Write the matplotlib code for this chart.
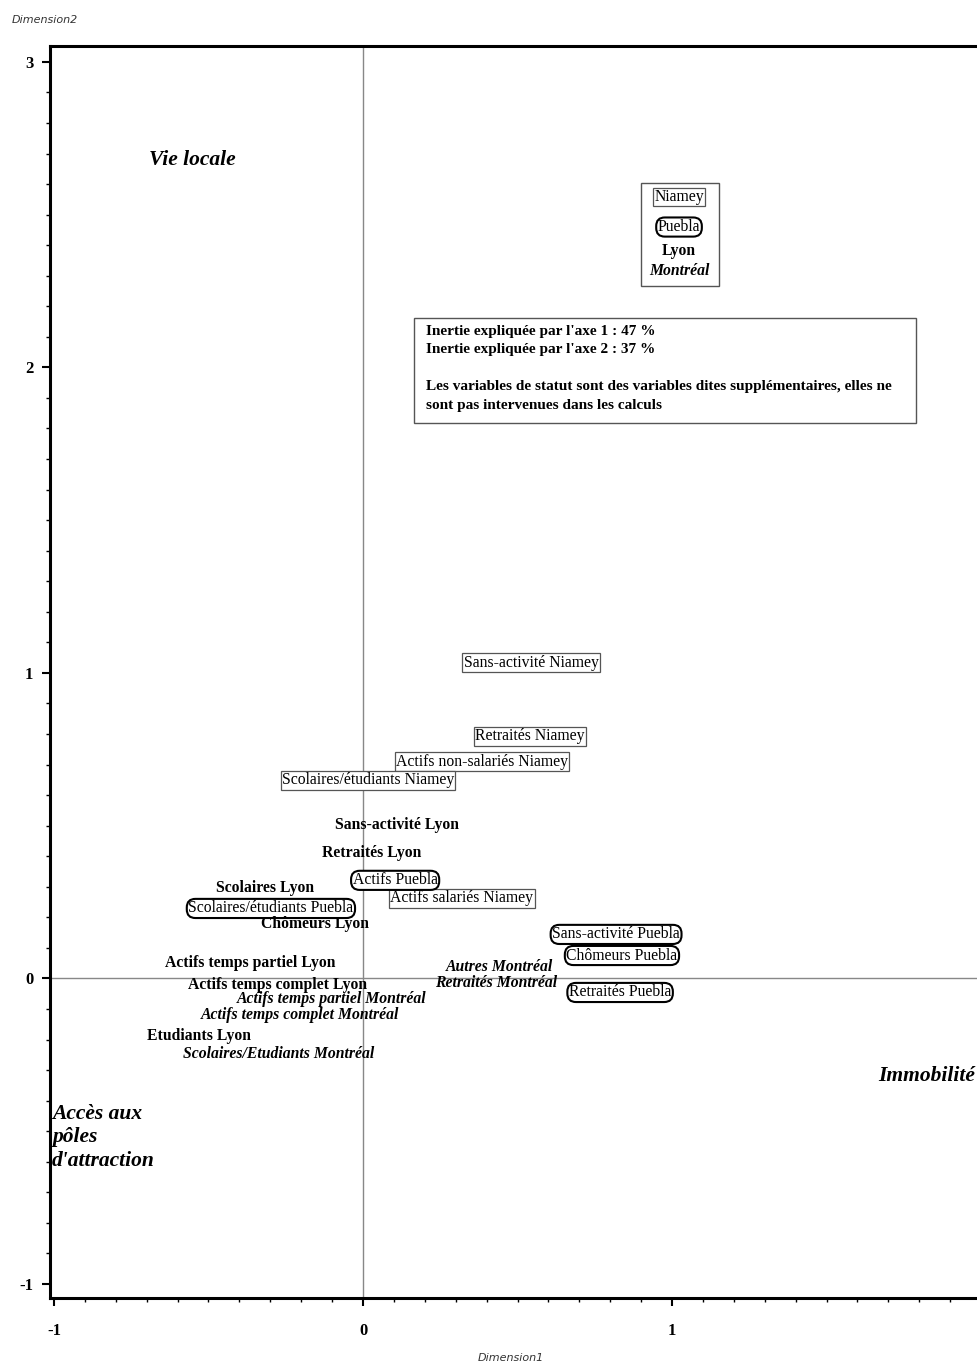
import matplotlib.pyplot as plt
from matplotlib.patches import Rectangle
from matplotlib.ticker import MultipleLocator

# coordinates of the categories on the first factorial plane
niamey_labels = ['Sans-activité Niamey', 'Retraités Niamey', 'Actifs non-salariés Niamey',
                 'Scolaires/étudiants Niamey', 'Actifs salariés Niamey']
niamey_x = [0.544, 0.540, 0.385, 0.016, 0.320]
niamey_y = [1.034, 0.792, 0.710, 0.648, 0.262]

puebla_labels = ['Actifs Puebla', 'Scolaires/étudiants Puebla', 'Sans-activité Puebla',
                 'Chômeurs Puebla', 'Retraités Puebla']
puebla_x = [0.104, -0.298, 0.819, 0.838, 0.832]
puebla_y = [0.321, 0.229, 0.144, 0.075, -0.046]

lyon_labels = ['Sans-activité Lyon', 'Retraités Lyon', 'Scolaires Lyon', 'Chômeurs Lyon',
               'Actifs temps partiel Lyon', 'Actifs temps complet Lyon', 'Etudiants Lyon']
lyon_x = [0.110, 0.029, -0.317, -0.155, -0.366, -0.278, -0.531]
lyon_y = [0.501, 0.412, 0.295, 0.177, 0.052, -0.020, -0.190]

montreal_labels = ['Autres Montréal', 'Retraités Montréal', 'Actifs temps partiel Montréal',
                   'Actifs temps complet Montréal', 'Scolaires/Etudiants Montréal']
montreal_x = [0.443, 0.430, -0.100, -0.204, -0.272]
montreal_y = [0.039, -0.016, -0.069, -0.121, -0.249]

info = ("Inertie expliquée par l'axe 1 : 47 %\n"
        "Inertie expliquée par l'axe 2 : 37 %\n"
        "\n"
        "Les variables de statut sont des variables dites supplémentaires, elles ne\n"
        "sont pas intervenues dans les calculs")

plt.rcParams['axes.unicode_minus'] = False
serif = 'Liberation Serif'
fs = 11.3

sq_box = dict(boxstyle='square,pad=0.08', fc='white', ec='#555555', lw=0.9)
rd_box = dict(boxstyle='round,pad=0.1,rounding_size=0.55', fc='white', ec='black', lw=1.5)

fig = plt.figure(figsize=(9.78, 13.65), dpi=100)
ax = fig.add_axes([0.0511, 0.0491, 0.9678, 0.9172])
ax.set_xlim(-1.013, 2.05)
ax.set_ylim(-1.046, 3.052)

ax.axvline(0, color='#888888', lw=1, zorder=0)
ax.axhline(0, color='#888888', lw=1, zorder=0)

for lab, x, y in zip(niamey_labels, niamey_x, niamey_y):
    ax.text(x, y, lab, ha='center', va='center', family=serif, fontsize=fs, bbox=sq_box)
for lab, x, y in zip(puebla_labels, puebla_x, puebla_y):
    ax.text(x, y, lab, ha='center', va='center', family=serif, fontsize=fs, bbox=rd_box)
for lab, x, y in zip(lyon_labels, lyon_x, lyon_y):
    ax.text(x, y, lab, ha='center', va='center', family=serif, fontsize=fs, weight='bold')
for lab, x, y in zip(montreal_labels, montreal_x, montreal_y):
    ax.text(x, y, lab, ha='center', va='center', family=serif, fontsize=fs,
            weight='bold', style='italic')

# axis interpretations
ax.text(-0.553, 2.678, 'Vie locale', ha='center', va='center', family=serif,
        fontsize=15.5, weight='bold', style='italic')
ax.text(1.825, -0.318, 'Immobilité', ha='center', va='center', family=serif,
        fontsize=15.5, weight='bold', style='italic')
ax.text(-1.006, -0.520, "Accès aux\npôles\nd'attraction", ha='left', va='center',
        family=serif, fontsize=15.5, weight='bold', style='italic', linespacing=1.25)

# legend box
ax.add_patch(Rectangle((0.6244, 0.8083), 0.0824, 0.0823, transform=ax.transAxes,
                       fc='white', ec='#555555', lw=1))
ax.text(0.6646, 0.8794, 'Niamey', transform=ax.transAxes, ha='center', va='center',
        family=serif, fontsize=fs, bbox=sq_box)
ax.text(0.6646, 0.8554, 'Puebla', transform=ax.transAxes, ha='center', va='center',
        family=serif, fontsize=fs, bbox=rd_box)
ax.text(0.6646, 0.8363, 'Lyon', transform=ax.transAxes, ha='center', va='center',
        family=serif, fontsize=fs, weight='bold')
ax.text(0.6646, 0.8203, 'Montréal', transform=ax.transAxes, ha='center', va='center',
        family=serif, fontsize=fs, weight='bold', style='italic')

# info box
ax.add_patch(Rectangle((0.3846, 0.6989), 0.5303, 0.0838, transform=ax.transAxes,
                       fc='white', ec='#555555', lw=1))
ax.text(0.3973, 0.7772, info, transform=ax.transAxes, ha='left', va='top',
        family=serif, fontsize=11, weight='bold', linespacing=1.55)

ax.xaxis.set_major_locator(MultipleLocator(1))
ax.yaxis.set_major_locator(MultipleLocator(1))
ax.xaxis.set_minor_locator(MultipleLocator(0.1))
ax.yaxis.set_minor_locator(MultipleLocator(0.1))
ax.tick_params(which='major', direction='out', length=6, width=1.5)
ax.tick_params(which='minor', direction='out', length=3, width=1)
for spine in ax.spines.values():
    spine.set_linewidth(2.2)
for lab in ax.get_xticklabels() + ax.get_yticklabels():
    lab.set_family(serif)
    lab.set_fontsize(12)
    lab.set_weight('bold')
ax.tick_params(axis='x', pad=12)
ax.tick_params(axis='y', pad=6)

fig.text(12 / 978, 1 - 20 / 1365, 'Dimension2', ha='left', va='center',
         fontsize=8, style='italic', color='#333333')
fig.text(511 / 978, 1 - 1358 / 1365, 'Dimension1', ha='center', va='center',
         fontsize=8, style='italic', color='#333333')

fig.savefig('out.png', dpi=100)
